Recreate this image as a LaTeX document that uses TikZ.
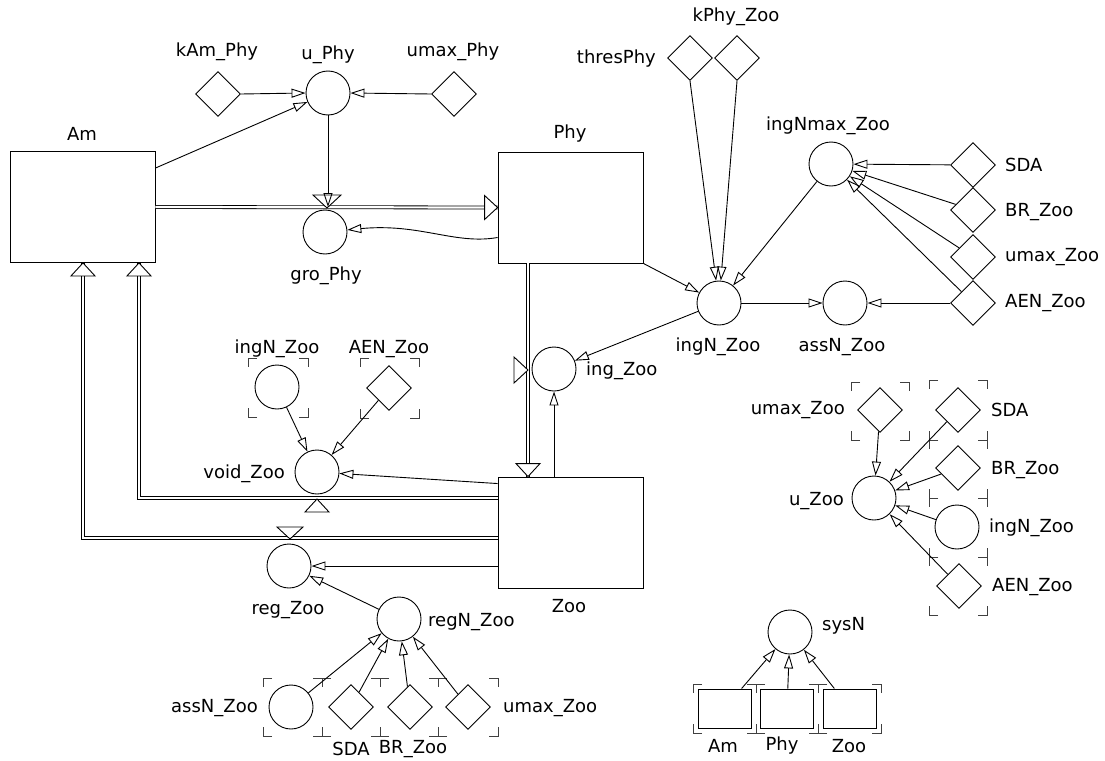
\documentclass[tikz,border=0pt]{standalone}
\usepackage{fontspec}
\setmainfont{DejaVu Sans}
\usetikzlibrary{shapes.geometric,arrows.meta,calc}
\newcommand\ghostcorners[4]{%
  \pgfmathsetmacro\gxa{#1-#3}\pgfmathsetmacro\gxb{#1+#3}%
  \pgfmathsetmacro\gya{#2-#4}\pgfmathsetmacro\gyb{#2+#4}%
  \draw[brk] (\gxa+9,\gya) -- (\gxa,\gya) -- (\gxa,\gya+9);
  \draw[brk] (\gxb-9,\gya) -- (\gxb,\gya) -- (\gxb,\gya+9);
  \draw[brk] (\gxa+9,\gyb) -- (\gxa,\gyb) -- (\gxa,\gyb-9);
  \draw[brk] (\gxb-9,\gyb) -- (\gxb,\gyb) -- (\gxb,\gyb-9);
}
\begin{document}
\begin{tikzpicture}[x=1pt,y=-1pt,
  lw/.style={line width=0.9pt},
  stock/.style={draw,lw,rectangle,minimum width=145pt,minimum height=111pt,inner sep=0},
  aux/.style={draw,lw,circle,minimum size=44pt,inner sep=0},
  const/.style={draw,lw,diamond,minimum width=45pt,minimum height=45pt,inner sep=0},
  gstock/.style={draw,lw,rectangle,minimum width=53pt,minimum height=39pt,inner sep=0},
  lbl/.style={font=\fontsize{18}{21}\selectfont,inner sep=0},
  link/.style={lw,-{Triangle[open,length=14pt,width=9pt]}},
  pipe/.style={draw=black,double=white,double distance=2.2pt,line width=0.8pt},
  fhead/.style={lw,fill=white},
  brk/.style={line width=1pt,black!75},
]
\useasboundingbox (0,0) rectangle (1105,760);

% stocks
\node[stock] (Am) at (82.5,207) {};
\node[stock] (Phy) at (570.5,207.5) {};
\node[stock] (Zoo) at (570.5,532.5) {};

% auxiliaries and constants
\node[aux] (uPhy) at (328,93) {};
\node[const] (kAmPhy) at (218,94) {};
\node[const] (umaxPhy) at (454,94) {};
\node[aux] (groPhy) at (325,232) {};
\node[const] (thres) at (690,58) {};
\node[const] (kPhyZoo) at (737,58) {};
\node[aux] (ingNmax) at (831,164) {};
\node[const] (SDA) at (973,165) {};
\node[const] (BR) at (973,210) {};
\node[const] (umaxZ) at (973,257) {};
\node[const] (AEN) at (973,303) {};
\node[aux] (ingN) at (719,303) {};
\node[aux] (assN) at (845,303) {};
\node[aux] (ing) at (554,369) {};
\node[aux] (gIngN) at (277,387) {};
\node[const] (gAEN) at (389,388) {};
\node[aux] (void) at (317,472) {};
\node[aux] (reg) at (289,566) {};
\node[aux] (regN) at (399,619) {};
\node[aux] (bAssN) at (291,707) {};
\node[const] (bSDA) at (351,707) {};
\node[const] (bBR) at (410,707) {};
\node[const] (bUmax) at (468,707) {};
\node[aux] (uZoo) at (874,498) {};
\node[const] (rUmax) at (880,410) {};
\node[const] (rSDA) at (958,410) {};
\node[const] (rBR) at (958,468) {};
\node[aux] (rIngN) at (957,527) {};
\node[const] (rAEN) at (959,586) {};
\node[aux] (sysN) at (790,632) {};
\node[gstock] (sAm) at (724.5,708.5) {};
\node[gstock] (sPhy) at (787,708.5) {};
\node[gstock] (sZoo) at (850,708.5) {};

% ghost brackets
\ghostcorners{278}{387.5}{30}{29.5}
\ghostcorners{389.5}{388}{29.5}{30}
\ghostcorners{292.5}{707}{29.5}{29}
\ghostcorners{351}{707}{29}{29}
\ghostcorners{409}{707}{29}{29}
\ghostcorners{468}{707}{30}{29}
\ghostcorners{880}{411}{29}{29}
\ghostcorners{958}{410}{29}{30}
\ghostcorners{958}{469}{29}{29}
\ghostcorners{958}{527.5}{29}{29.5}
\ghostcorners{958}{586}{29}{29}
\ghostcorners{724.5}{708.5}{31.5}{24.5}
\ghostcorners{787}{708.5}{31}{24.5}
\ghostcorners{849.5}{708.5}{31.5}{24.5}

% flows (pipes)
\draw[pipe] (Am.east) -- (Phy.west);
\draw[pipe] (Phy.south -| 528,0) -- (Zoo.north -| 528,0);
\draw[pipe] (Zoo.west |- 0,498) -| (Am.south -| 139,0);
\draw[pipe] (Zoo.west |- 0,538) -| (Am.south -| 83,0);
% flow heads
\draw[fhead] (Phy.west) -- ++(-13,-12) -- ++(0,24) -- cycle;
\draw[fhead] (Am.south -| 139,0) -- ++(-12,13) -- ++(24,0) -- cycle;
\draw[fhead] (Am.south -| 83,0) -- ++(-12,13) -- ++(24,0) -- cycle;
\draw[fhead] (Zoo.north -| 528,0) -- ++(-12,-13) -- ++(24,0) -- cycle;
% valves
\draw[fhead] (327,208) -- ++(-14,-13) -- ++(28,0) -- cycle;
\draw[fhead] (528,370) -- ++(-14,-13) -- ++(0,26) -- cycle;
\draw[fhead] (317,499) -- ++(-12,13) -- ++(24,0) -- cycle;
\draw[fhead] (290,539) -- ++(-13,-12) -- ++(26,0) -- cycle;

% links
\draw[link] (kAmPhy.east) -- (uPhy.west);
\draw[link] (umaxPhy.west) -- (uPhy.east);
\draw[link] ($(Am.north east)+(0,17)$) -- (uPhy);
\draw[link] (uPhy.south) -- (uPhy.south |- Am.east);
\draw[link] ($(Phy.west)+(0,30)$) .. controls (455,245) and (420,223) .. (groPhy);
\draw[link] (Phy.south east) -- (ingN);
\draw[link] (thres.south) -- (ingN);
\draw[link] (kPhyZoo.south) -- (ingN);
\draw[link] (ingNmax) -- (ingN);
\draw[link] (ingN) -- (ing);
\draw[link] (ingN) -- (assN);
\draw[link] (SDA) -- (ingNmax);
\draw[link] (BR) -- (ingNmax);
\draw[link] (umaxZ) -- (ingNmax);
\draw[link] (AEN) -- (ingNmax);
\draw[link] (AEN) -- (assN);
\draw[link] (ing.south |- Zoo.north) -- (ing.south);
\draw[link] ($(Zoo.north west)+(0,7)$) -- (void);
\draw[link] (gIngN) -- (void);
\draw[link] (gAEN) -- (void);
\draw[link] (Zoo.west |- reg) -- (reg);
\draw[link] (regN) -- (reg);
\draw[link] (bAssN) -- (regN);
\draw[link] (bSDA) -- (regN);
\draw[link] (bBR) -- (regN);
\draw[link] (bUmax) -- (regN);
\draw[link] (rUmax) -- (uZoo);
\draw[link] (rSDA) -- (uZoo);
\draw[link] (rBR) -- (uZoo);
\draw[link] (rIngN) -- (uZoo);
\draw[link] (rAEN) -- (uZoo);
\draw[link] (sAm) -- (sysN);
\draw[link] (sPhy) -- (sysN);
\draw[link] (sZoo) -- (sysN);

% labels
\node[lbl] (tAm) at (82,134) {Am};
\node[lbl] (tPhy) at (570,134) {Phy};
\node[lbl] (tZoo) at (569,606) {Zoo};
\node[lbl] (tkAm) at (217,52) {kAm\_Phy};
\node[lbl] (tuPhy) at (328,55) {u\_Phy};
\node[lbl] (tumaxPhy) at (453,52) {umax\_Phy};
\node[lbl] (tgro) at (326,276) {gro\_Phy};
\node[lbl,anchor=east] (tthres) at (656,59) {thresPhy};
\node[lbl] (tkPhy) at (736,17) {kPhy\_Zoo};
\node[lbl] (tingNmax) at (828,126) {ingNmax\_Zoo};
\node[lbl,anchor=west] (tSDA) at (1005,165) {SDA};
\node[lbl,anchor=west] (tBR) at (1005,212) {BR\_Zoo};
\node[lbl,anchor=west] (tumaxZ) at (1005,257) {umax\_Zoo};
\node[lbl,anchor=west] (tAEN) at (1005,303) {AEN\_Zoo};
\node[lbl] (tingN) at (718,347) {ingN\_Zoo};
\node[lbl] (tassN) at (842,347) {assN\_Zoo};
\node[lbl,anchor=west] (ting) at (586,371) {ing\_Zoo};
\node[lbl] (tgIngN) at (277,349) {ingN\_Zoo};
\node[lbl] (tgAEN) at (389,349) {AEN\_Zoo};
\node[lbl,anchor=east] (tvoid) at (285,474) {void\_Zoo};
\node[lbl] (treg) at (288,610) {reg\_Zoo};
\node[lbl,anchor=west] (tregN) at (428,622) {regN\_Zoo};
\node[lbl,anchor=east] (tbAssN) at (258,708) {assN\_Zoo};
\node[lbl,anchor=west] (tbUmax) at (503,708) {umax\_Zoo};
\node[lbl] (tbSDA) at (351,749) {SDA};
\node[lbl] (tbBR) at (413,749) {BR\_Zoo};
\node[lbl,anchor=east] (trUmax) at (845,410) {umax\_Zoo};
\node[lbl,anchor=west] (trSDA) at (991,410) {SDA};
\node[lbl,anchor=west] (trBR) at (991,470) {BR\_Zoo};
\node[lbl,anchor=west] (trIngN) at (989,528) {ingN\_Zoo};
\node[lbl,anchor=west] (trAEN) at (992,587) {AEN\_Zoo};
\node[lbl,anchor=east] (tuZoo) at (844,501) {u\_Zoo};
\node[lbl,anchor=west] (tsysN) at (822,626) {sysN};
\node[lbl] (tsAm) at (723,746) {Am};
\node[lbl] (tsPhy) at (782,746) {Phy};
\node[lbl] (tsZoo) at (849,746) {Zoo};
\end{tikzpicture}
\end{document}
